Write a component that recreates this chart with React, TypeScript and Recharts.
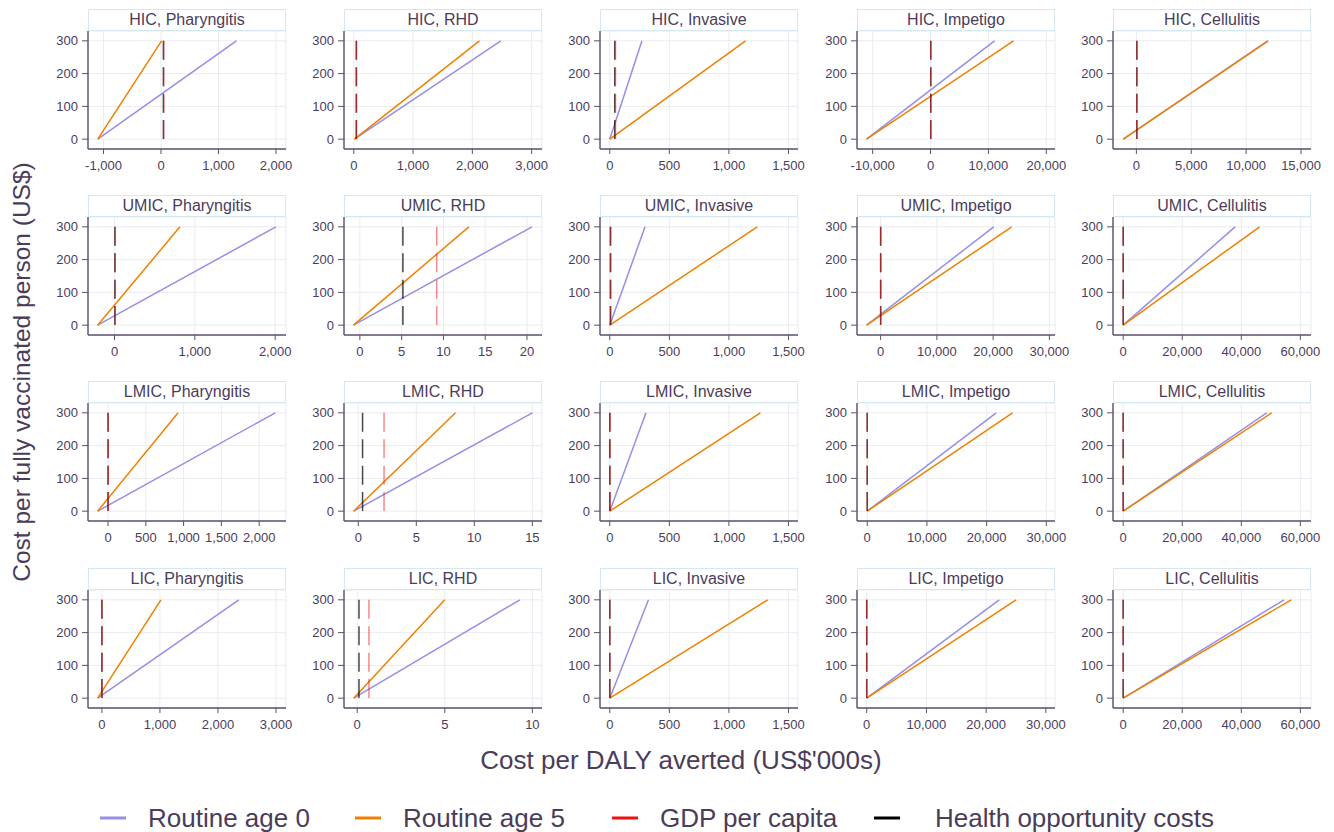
import React from 'react';
import { LineChart, Line, XAxis, YAxis, CartesianGrid, ReferenceLine } from 'recharts';

const incomeGroups = ['HIC', 'UMIC', 'LMIC', 'LIC'];
const conditions = ['Pharyngitis', 'RHD', 'Invasive', 'Impetigo', 'Cellulitis'];

// cost per fully vaccinated person (US$) at both ends of each line
const vaccineCosts = [0, 300];

// cost per DALY averted (US$'000s) where each line meets US$0 and US$300
const age0AtZero = [
  [-1100, 10, 0, -11060, -1190],
  [-210, -0.77, 0, -2480, 0],
  [-137, -0.4, 0, 0, 0],
  [-74, -0.2, 0, 0, 0],
];
const age0At300 = [
  [1312, 2480, 270, 11060, 11960],
  [2010, 20.6, 296, 20100, 37900],
  [2213, 15.0, 304, 21600, 48600],
  [2360, 9.29, 325, 22190, 54480],
];
const age5AtZero = [
  [-1100, 10, 0, -11060, -1190],
  [-210, -0.77, 0, -2480, 0],
  [-137, -0.4, 0, 0, 0],
  [-74, -0.2, 0, 0, 0],
];
const age5At300 = [
  [10, 2120, 1140, 14340, 12020],
  [815, 13.05, 1238, 23300, 46200],
  [927, 8.38, 1264, 24340, 50300],
  [1017, 5.0, 1327, 25020, 56900],
];

// thresholds per income group (US$'000s)
const gdpPerCapita = [48, 9.2, 2.22, 0.67];
const healthOpportunityCosts = [42, 5.15, 0.37, 0.1];

const yTicks = [0, 100, 200, 300];
const xTicks = [
  [[-1000, 0, 1000, 2000], [0, 1000, 2000, 3000], [0, 500, 1000, 1500], [-10000, 0, 10000, 20000], [0, 5000, 10000, 15000]],
  [[0, 1000, 2000], [0, 5, 10, 15, 20], [0, 500, 1000, 1500], [0, 10000, 20000, 30000], [0, 20000, 40000, 60000]],
  [[0, 500, 1000, 1500, 2000], [0, 5, 10, 15], [0, 500, 1000, 1500], [0, 10000, 20000, 30000], [0, 20000, 40000, 60000]],
  [[0, 1000, 2000, 3000], [0, 5, 10], [0, 500, 1000, 1500], [0, 10000, 20000, 30000], [0, 20000, 40000, 60000]],
];
const xRanges = [
  [[-1270, 2175], [-165, 3175], [-82, 1580], [-12700, 21500], [-2130, 15910]],
  [[-330, 2135], [-1.9, 21.8], [-82, 1580], [-4200, 31000], [-3450, 63600]],
  [[-265, 2355], [-1.23, 15.83], [-82, 1580], [-1714, 31450], [-3450, 63600]],
  [[-240, 3173], [-0.755, 10.55], [-82, 1580], [-1628, 31530], [-3450, 63600]],
];

const seriesNames = ['Routine age 0', 'Routine age 5', 'GDP per capita', 'Health opportunity costs'];

const FONT = '"Liberation Sans", Arial, sans-serif';
const TEXT = '#4b3c5a';
const AXIS = '#5e4f6e';
const GRID = '#ebebf1';
const PURPLE = '#958fe6';
const ORANGE = '#ef8000';

const PLOT_W = 198;
const PLOT_H = 118;
const COL0 = 87.7;
const COL_STEP = 256.3;
const ROW0 = 31;
const ROW_STEP = 186.2;
const Y_AXIS_W = 45;
const X_AXIS_H = 32;
const RIGHT_PAD = 26;

const fmt = (v: number) => v.toLocaleString('en-US');

const Panel = ({ r, c }: { r: number; c: number }) => {
  const left = Math.round(COL0 + COL_STEP * c);
  const top = Math.round(ROW0 + ROW_STEP * r);
  const age0 = [
    { x: age0AtZero[r][c], y: vaccineCosts[0] },
    { x: age0At300[r][c], y: vaccineCosts[1] },
  ];
  const age5 = [
    { x: age5AtZero[r][c], y: vaccineCosts[0] },
    { x: age5At300[r][c], y: vaccineCosts[1] },
  ];
  const hoc = healthOpportunityCosts[r];
  const gdp = gdpPerCapita[r];
  return (
    <>
      <div style={{
        position: 'absolute', left, top: top - 22, width: PLOT_W, height: 22,
        boxSizing: 'border-box', border: '1px solid #d4e8f2', background: '#fff',
        textAlign: 'center', fontSize: 16, lineHeight: '20px', color: TEXT,
      }}>
        {incomeGroups[r]}, {conditions[c]}
      </div>
      <div style={{ position: 'absolute', left: left - Y_AXIS_W, top }}>
        <LineChart width={Y_AXIS_W + PLOT_W + RIGHT_PAD} height={PLOT_H + X_AXIS_H}
          margin={{ top: 0, right: RIGHT_PAD, left: 0, bottom: 0 }}>
          <CartesianGrid stroke={GRID} strokeWidth={1} />
          <XAxis type="number" dataKey="x" domain={xRanges[r][c]} ticks={xTicks[r][c]}
            allowDataOverflow interval={0} height={X_AXIS_H} tickFormatter={fmt}
            tick={{ fill: TEXT, fontSize: 13, fontFamily: FONT }} tickSize={5} tickMargin={7}
            axisLine={{ stroke: AXIS, strokeWidth: 1.4 }} tickLine={{ stroke: AXIS }} />
          <YAxis type="number" dataKey="y" domain={[-30, 330]} ticks={yTicks}
            allowDataOverflow interval={0} width={Y_AXIS_W}
            tick={{ fill: TEXT, fontSize: 13, fontFamily: FONT }} tickSize={6} tickMargin={4}
            axisLine={{ stroke: AXIS, strokeWidth: 1.4 }} tickLine={{ stroke: AXIS }} />
          <Line data={age0} dataKey="y" name={seriesNames[0]} stroke={PURPLE} strokeWidth={1.5}
            dot={false} isAnimationActive={false} />
          <Line data={age5} dataKey="y" name={seriesNames[1]} stroke={ORANGE} strokeWidth={1.5}
            dot={false} isAnimationActive={false} />
          <ReferenceLine segment={[{ x: hoc, y: 300 }, { x: hoc, y: 0 }]}
            stroke="rgba(0,0,0,0.72)" strokeWidth={1.5} strokeDasharray="19 7.4" />
          <ReferenceLine segment={[{ x: gdp, y: 300 }, { x: gdp, y: 0 }]}
            stroke="rgba(238,20,20,0.5)" strokeWidth={1.5} strokeDasharray="19 7.4" />
        </LineChart>
      </div>
    </>
  );
};

const legendItems = [
  { name: seriesNames[0], color: PURPLE, x: 100, textX: 148 },
  { name: seriesNames[1], color: ORANGE, x: 355, textX: 403 },
  { name: seriesNames[2], color: '#ee1111', x: 612, textX: 660 },
  { name: seriesNames[3], color: '#000000', x: 874, textX: 935 },
];

const App = () => (
  <div style={{ position: 'absolute', left: 0, top: 0, width: 1334, height: 832,
    background: '#fff', fontFamily: FONT, overflow: 'hidden' }}>
    <svg width={1334} height={832} style={{ position: 'absolute', left: 0, top: 0 }}>
      <text x={30} y={372} transform="rotate(-90 30 372)" textAnchor="middle"
        fontSize={24.5} fill={TEXT} fontFamily={FONT}>
        Cost per fully vaccinated person (US$)
      </text>
      <text x={681} y={769} textAnchor="middle" fontSize={26} fill={TEXT} fontFamily={FONT}>
        Cost per DALY averted (US$'000s)
      </text>
      {legendItems.map((it) => (
        <g key={it.name}>
          <line x1={it.x} x2={it.x + 26} y1={818} y2={818} stroke={it.color} strokeWidth={3} />
          <text x={it.textX} y={827} fontSize={26} fill={TEXT} fontFamily={FONT}>{it.name}</text>
        </g>
      ))}
    </svg>
    {incomeGroups.map((g, r) => conditions.map((d, c) => <Panel key={g + d} r={r} c={c} />))}
  </div>
);

export default App;
